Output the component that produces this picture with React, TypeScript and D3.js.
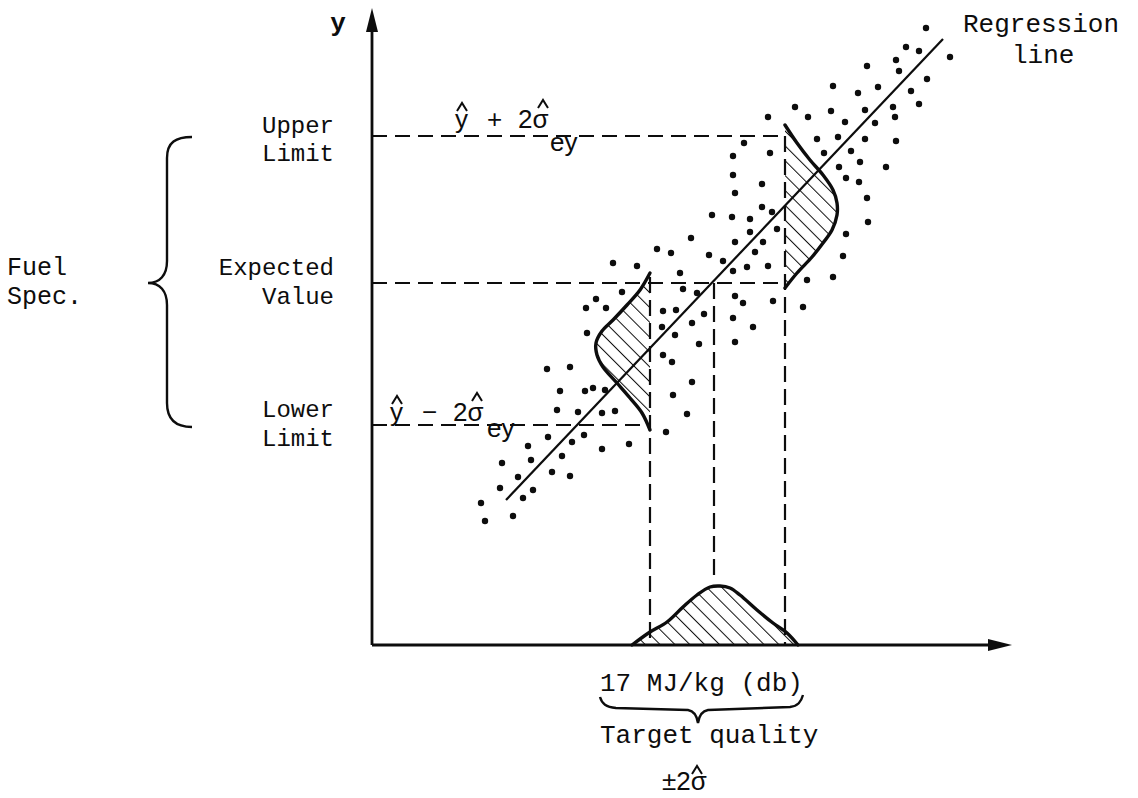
import React from "react";
import * as d3 from "d3";

const W = 1138;
const H = 798;

// ---- data (units, origin at the axes' corner) ----
const xDomain = [0, 640];
const yDomain = [0, 637];

const limitLevels = [220, 362, 509]; // lower limit, expected value, upper limit
const limitNames = [
  ["Lower", "Limit"],
  ["Expected", "Value"],
  ["Upper", "Limit"],
];
const limitLineEnds = [278, 413, 413];
const verticalXs = [278, 342, 413];
const verticalTops = [368, 362, 509];
const verticalBottoms = [0, 66, 0];

const regressionX = [134, 571];
const regressionY = [145, 606];

const scatterPoints: [number, number][] = [
  [109, 142], [113, 124], [128, 157], [130, 182], [141, 129], [146, 168], [151, 147],
  [156, 199], [159, 185], [161, 155], [175, 276], [176, 208], [180, 173], [185, 235],
  [188, 254], [190, 189], [198, 278], [198, 169], [200, 203], [206, 233], [212, 210],
  [213, 254], [215, 312], [221, 257], [230, 232], [230, 196], [233, 255], [243, 234],
  [257, 201], [294, 213], [301, 250], [315, 231], [320, 263], [291, 290], [300, 283],
  [327, 301], [320, 322], [303, 310], [290, 318],
  [214, 337], [224, 346], [234, 337], [250, 353], [241, 382], [265, 379], [285, 396],
  [299, 392], [319, 407], [308, 372], [311, 356], [325, 352], [291, 334], [304, 335],
  [332, 331], [340, 430], [337, 390], [351, 384], [363, 403], [361, 374], [375, 378],
  [383, 393], [378, 413], [396, 379], [363, 349], [371, 342], [401, 344], [361, 327],
  [381, 318], [363, 303], [390, 438], [400, 433], [360, 428], [378, 426], [363, 452],
  [391, 403], [405, 416],
  [361, 489], [361, 470], [372, 502], [390, 461], [398, 492], [396, 528], [423, 538],
  [436, 528], [452, 492], [445, 506], [466, 508], [459, 534], [473, 523], [479, 494],
  [488, 483], [467, 478], [474, 467], [487, 463], [461, 559], [486, 552], [506, 558],
  [495, 579], [493, 535], [503, 522], [521, 538], [523, 528], [493, 506], [524, 504],
  [514, 478], [495, 447], [496, 423], [474, 411], [471, 389], [461, 368], [435, 365],
  [431, 338], [527, 574], [554, 617], [534, 598], [547, 594], [578, 588], [524, 585],
  [555, 566], [539, 554], [547, 541],
];

// bell on the x axis (target quality distribution)
const bottomBellX = [260, 278, 295, 311, 325, 338, 348, 358, 368, 385, 401, 415, 426];
const bottomBellH = [0, 13, 23, 38, 50, 58, 59, 57, 50, 35, 22, 12, 0];
// bell hanging left of the lower-limit vertical
const lowerBellY = [372, 355, 340, 325, 314, 302, 290, 278, 262, 247, 232, 215];
const lowerBellH = [0, 10, 23, 37, 48, 54, 53, 47, 33, 20, 8, 0];
// bell to the right of the upper-limit vertical
const upperBellY = [520, 502, 485, 470, 455, 442, 430, 415, 402, 388, 372, 357];
const upperBellH = [0, 12, 25, 38, 48, 52, 52, 47, 38, 27, 12, 0];

const INK = "#0d0d0d";
const MONO = "'Liberation Mono', 'DejaVu Sans Mono', monospace";
const SANS = "'Liberation Sans', Arial, sans-serif";

export default function App() {
  const x = d3.scaleLinear().domain(xDomain).range([372, 1012]);
  const y = d3.scaleLinear().domain(yDomain).range([645, 8]);

  const smooth = d3
    .line<[number, number]>()
    .x((d) => d[0])
    .y((d) => d[1])
    .curve(d3.curveCatmullRom.alpha(0.5));
  const straight = d3.line<[number, number]>().x((d) => d[0]).y((d) => d[1]);

  const bottomPts: [number, number][] = bottomBellX.map((v, i) => [x(v), y(bottomBellH[i])]);
  const lowerPts: [number, number][] = lowerBellY.map((v, i) => [x(verticalXs[0] - lowerBellH[i]), y(v)]);
  const upperPts: [number, number][] = upperBellY.map((v, i) => [x(verticalXs[2] + upperBellH[i]), y(v)]);

  const bottomD = smooth(bottomPts) || "";
  const lowerD = smooth(lowerPts) || "";
  const upperD = smooth(upperPts) || "";

  const regD =
    straight([
      [x(regressionX[0]), y(regressionY[0])],
      [x(regressionX[1]), y(regressionY[1])],
    ]) || "";

  const x0 = x(0);
  const y0 = y(0);
  const yTop = y(yDomain[1]);
  const xEnd = x(xDomain[1]);

  const yUp = y(limitLevels[2]);
  const yMid = y(limitLevels[1]);
  const yLow = y(limitLevels[0]);

  const labelOffsets = [
    [-8, 21],
    [-8, 21],
    [-3, 25],
  ];

  const hat = (cx: number, cy: number) =>
    `M${cx - 5},${cy + 5} L${cx},${cy - 3} L${cx + 5},${cy + 5}`;

  return (
    <svg
      width={W}
      height={H}
      viewBox={`0 0 ${W} ${H}`}
      style={{ position: "absolute", left: 0, top: 0, background: "#fff", display: "block" }}
    >
      <defs>
        <pattern
          id="hatch"
          patternUnits="userSpaceOnUse"
          width={10.5}
          height={10.5}
          patternTransform="rotate(-45)"
        >
          <line x1={0} y1={0} x2={0} y2={10.5} stroke={INK} strokeWidth={2} />
        </pattern>
      </defs>
      <rect x={0} y={0} width={W} height={H} fill="#fff" />

      {/* hatched bells */}
      <path d={bottomD + "Z"} fill="url(#hatch)" stroke="none" />
      <path d={lowerD + "Z"} fill="url(#hatch)" stroke="none" />
      <path d={upperD + "Z"} fill="url(#hatch)" stroke="none" />

      {/* dashed guide lines */}
      {limitLevels.map((lv, i) => (
        <line
          key={"h" + i}
          x1={x0}
          x2={x(limitLineEnds[i])}
          y1={y(lv)}
          y2={y(lv)}
          stroke={INK}
          strokeWidth={2.2}
          strokeDasharray="15,8"
        />
      ))}
      {verticalXs.map((vx, i) => (
        <line
          key={"v" + i}
          x1={x(vx)}
          x2={x(vx)}
          y1={y(verticalTops[i])}
          y2={y(verticalBottoms[i])}
          stroke={INK}
          strokeWidth={2.2}
          strokeDasharray="16,7"
        />
      ))}

      {/* regression line */}
      <path d={regD} stroke={INK} strokeWidth={2.2} fill="none" />

      {/* bell outlines */}
      <path d={bottomD} stroke={INK} strokeWidth={3.4} fill="none" strokeLinecap="round" />
      <path d={lowerD} stroke={INK} strokeWidth={3.4} fill="none" strokeLinecap="round" />
      <path d={upperD} stroke={INK} strokeWidth={3.4} fill="none" strokeLinecap="round" />

      {/* scatter */}
      {scatterPoints.map((p, i) => (
        <circle key={"p" + i} cx={x(p[0])} cy={y(p[1])} r={3.2} fill={INK} />
      ))}

      {/* axes */}
      <line x1={x0} x2={x0} y1={y0} y2={yTop + 18} stroke={INK} strokeWidth={2.8} />
      <path d={`M${x0},${yTop} L${x0 - 6},${yTop + 24} L${x0 + 6},${yTop + 24} Z`} fill={INK} />
      <line x1={x0} x2={xEnd - 18} y1={y0} y2={y0} stroke={INK} strokeWidth={2.8} />
      <path d={`M${xEnd},${y0} L${xEnd - 24},${y0 - 6} L${xEnd - 24},${y0 + 6} Z`} fill={INK} />

      <text x={338} y={31} fontFamily={MONO} fontSize={26} fontWeight="bold" textAnchor="middle" fill={INK}>
        y
      </text>

      {/* left labels */}
      {limitNames.map((nm, i) => (
        <g key={"l" + i} fontFamily={MONO} fontSize={24} fill={INK} textAnchor="end">
          <text x={334} y={y(limitLevels[i]) + labelOffsets[i][0]}>{nm[0]}</text>
          <text x={334} y={y(limitLevels[i]) + labelOffsets[i][1]}>{nm[1]}</text>
        </g>
      ))}

      <g fontFamily={MONO} fontSize={25} fill={INK}>
        <text x={7} y={yMid - 8}>Fuel</text>
        <text x={7} y={yMid + 21}>Spec.</text>
      </g>

      {/* curly brace for the fuel spec */}
      <path
        d={`M192,${yUp + 1} C176,${yUp + 1} 167,${yUp + 6} 167,${yUp + 22} L167,${yMid - 22} C167,${yMid - 8} 160,${yMid} 148,${yMid} C160,${yMid} 167,${yMid + 8} 167,${yMid + 22} L167,${yLow - 22} C167,${yLow - 6} 176,${yLow + 2} 192,${yLow + 2}`}
        stroke={INK}
        strokeWidth={2.4}
        fill="none"
      />

      {/* limit formulas */}
      <g fontFamily={SANS} fontSize={26} fill={INK}>
        <text x={455} y={yUp - 8}>y</text>
        <text x={487} y={yUp - 8}>+</text>
        <text x={518} y={yUp - 8}>2σ</text>
        <text x={550} y={yUp + 15}>ey</text>
        <text x={390} y={yLow - 4}>y</text>
        <text x={422} y={yLow - 4}>−</text>
        <text x={453} y={yLow - 4}>2σ</text>
        <text x={487} y={yLow + 12}>ey</text>
      </g>
      <g stroke={INK} strokeWidth={2} fill="none">
        <path d={hat(462, yUp - 30)} />
        <path d={hat(543, yUp - 33)} />
        <path d={hat(397, yLow - 26)} />
        <path d={hat(477, yLow - 29)} />
      </g>

      {/* regression label */}
      <g fontFamily={MONO} fontSize={26} fill={INK}>
        <text x={963} y={32}>Regression</text>
        <text x={1012} y={63}>line</text>
      </g>

      {/* bottom labels */}
      <g fontFamily={MONO} fontSize={26} fill={INK}>
        <text x={600} y={691}>17 MJ/kg (db)</text>
        <text x={600} y={743}>Target quality</text>
      </g>
      <path
        d="M600,697 C602,704 606,707 616,708 L688,710 C694,711 697,716 698,723 C699,716 702,711 708,710 L790,707 C798,706 801,702 803,695"
        stroke={INK}
        strokeWidth={2.4}
        fill="none"
      />
      <text x={662} y={790} fontFamily={SANS} fontSize={26} fill={INK}>
        ±2σ
      </text>
      <path d={hat(697, 769)} stroke={INK} strokeWidth={2} fill="none" />
    </svg>
  );
}
